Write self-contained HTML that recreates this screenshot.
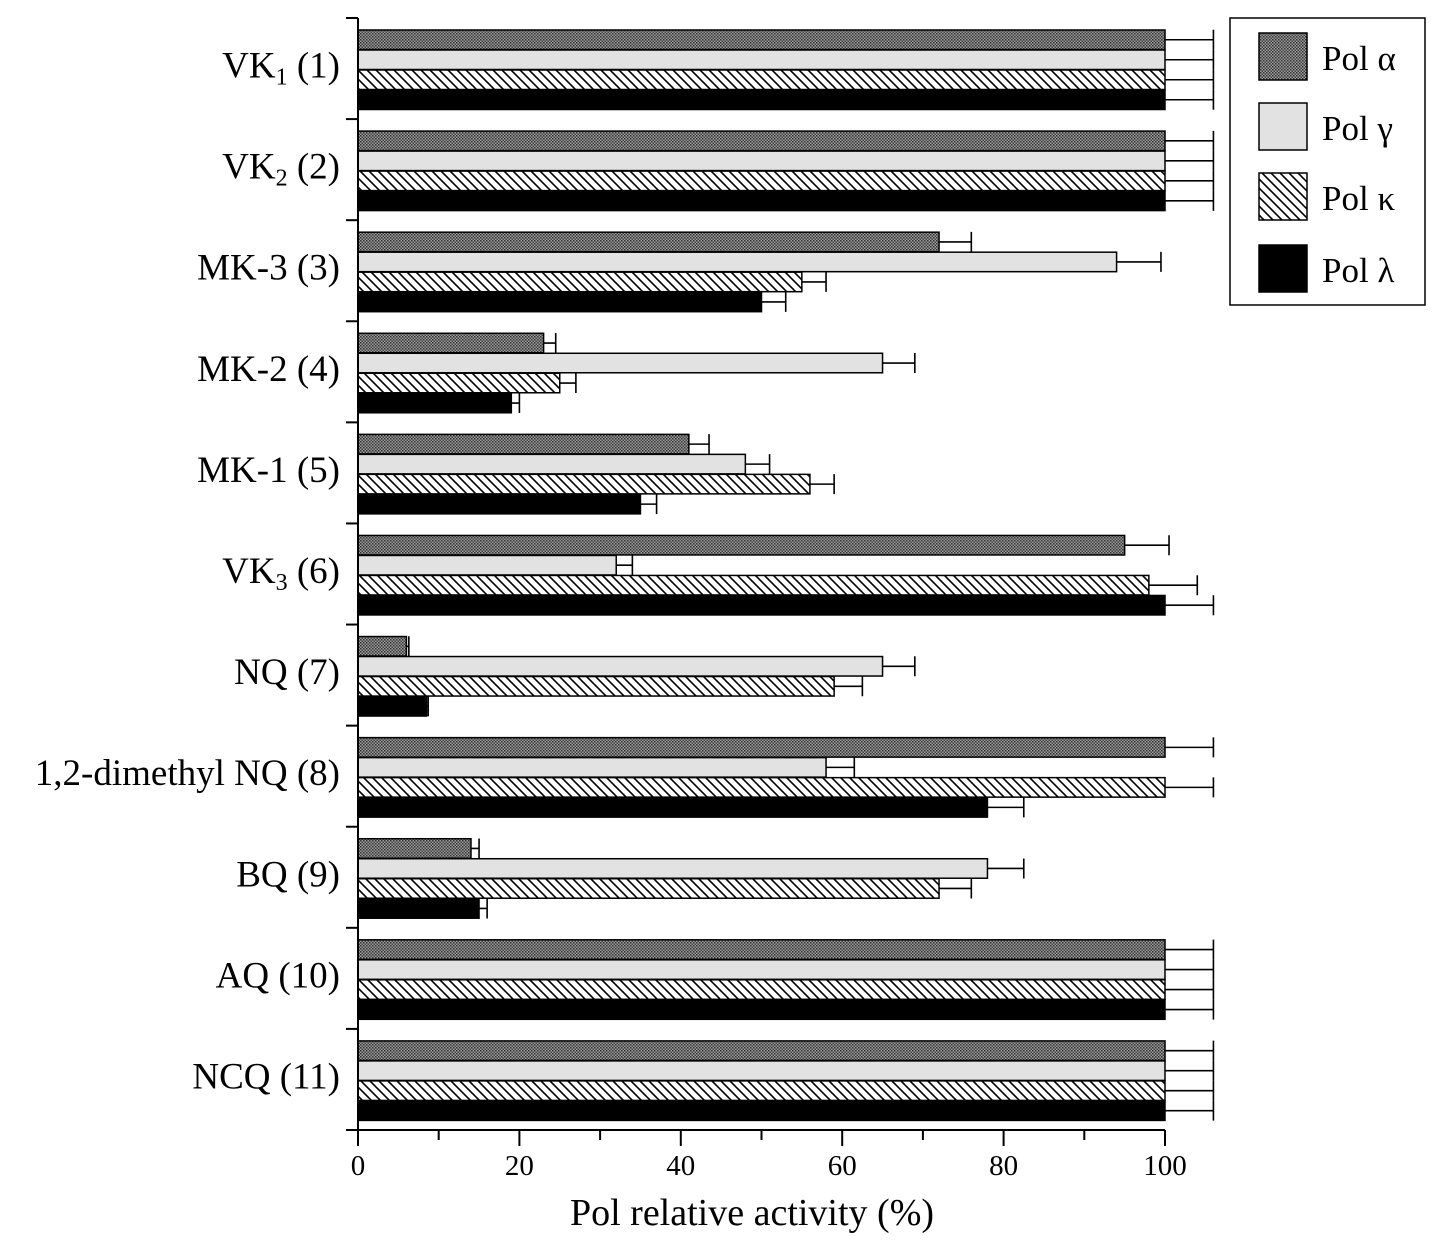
<!DOCTYPE html>
<html><head><meta charset="utf-8">
<style>
body{margin:0;background:#fff;}
svg{display:block;font-family:"Liberation Serif",serif;}
</style></head>
<body>
<svg id="chart" width="1453" height="1256">
<defs>
<pattern id="pa" width="3" height="3" patternUnits="userSpaceOnUse">
<rect width="3" height="3" fill="#9a9a9a"/><rect width="1.5" height="1.5" fill="#333"/><rect x="1.5" y="1.5" width="1.5" height="1.5" fill="#444"/>
</pattern>
<pattern id="pk" width="9" height="9" patternUnits="userSpaceOnUse">
<rect width="9" height="9" fill="#fff"/><path d="M-2,-2 L11,11 M-11,-2 L2,11 M7,-2 L20,11" stroke="#000" stroke-width="1.6"/>
</pattern>
</defs>
<g id="plot"></g>
<g>
<rect x="1230" y="18" width="195" height="287" fill="#fff" stroke="#000" stroke-width="1.5"/>
<rect x="1259" y="33" width="48" height="47" fill="url(#pa)" stroke="#000" stroke-width="1.5"/>
<text x="1322" y="70" font-size="35">Pol α</text>
<rect x="1259" y="103" width="48" height="47" fill="#e2e2e2" stroke="#000" stroke-width="1.5"/>
<text x="1322" y="140" font-size="35">Pol γ</text>
<rect x="1259" y="173" width="48" height="47" fill="url(#pk)" stroke="#000" stroke-width="1.5"/>
<text x="1322" y="210" font-size="35">Pol κ</text>
<rect x="1259" y="245" width="48" height="47" fill="#000" stroke="#000" stroke-width="1.5"/>
<text x="1322" y="282" font-size="35">Pol λ</text>
</g>
<text x="752" y="1225" font-size="38" text-anchor="middle">Pol relative activity (%)</text>
</svg>
<script>
const categories=["VK1 (1)","VK2 (2)","MK-3 (3)","MK-2 (4)","MK-1 (5)","VK3 (6)","NQ (7)","1,2-dimethyl NQ (8)","BQ (9)","AQ (10)","NCQ (11)"];
const polAlpha=[100,100,72,23,41,95,6,100,14,100,100];
const polGamma=[100,100,94,65,48,32,65,58,78,100,100];
const polKappa=[100,100,55,25,56,98,59,100,72,100,100];
const polLambda=[100,100,50,19,35,100,8.5,78,15,100,100];
const errAlpha=[6,6,4,1.5,2.5,5.5,0.3,6,1,6,6];
const errGamma=[6,6,5.5,4,3,2,4,3.5,4.5,6,6];
const errKappa=[6,6,3,2,3,6,3.5,6,4,6,6];
const errLambda=[6,6,3,1,2,6,0.2,4.5,1,6,6];
const xTicks=[0,20,40,60,80,100];

const NS="http://www.w3.org/2000/svg";
const g=document.getElementById("plot");
const X0=358,X1=1165,Y0=18,Y1=1130;
const xs=v=>X0+(X1-X0)*v/100;
const gh=(Y1-Y0)/categories.length;
function mk(t,a,p){const e=document.createElementNS(NS,t);for(const k in a)e.setAttribute(k,a[k]);(p||g).appendChild(e);return e;}
const series=[[polAlpha,errAlpha,"url(#pa)","alpha"],[polGamma,errGamma,"#e2e2e2","gamma"],[polKappa,errKappa,"url(#pk)","kappa"],[polLambda,errLambda,"#000","lambda"]];
categories.forEach((c,i)=>{
  const gy=Y0+i*gh;
  series.forEach((s,j)=>{
    const y=gy+12+j*20,h=19.5,v=s[0][i],e=s[1][i];
    const r=mk("rect",{x:X0,y:y,width:xs(v)-X0,height:h,fill:s[2],stroke:"#000","stroke-width":1.5});
    
    
    const cy=y+h/2;
    const eb=mk("path",{d:`M${xs(v)},${cy}H${xs(v+e)}M${xs(v+e)},${cy-10}V${cy+10}`,stroke:"#000","stroke-width":1.6,fill:"none"});
    
    
  });
  const t=mk("text",{x:340,y:gy+gh/2+9,"font-size":37,"text-anchor":"end"});
  
  
  const m=c.match(/^VK(\d) (.*)$/);
  if(m){t.textContent="VK";const ts=mk("tspan",{"font-size":24,dy:7},t);ts.textContent=m[1];const t2=mk("tspan",{dy:-7},t);t2.textContent=" "+m[2];}
  else t.textContent=c;
});
for(let i=0;i<=categories.length;i++){
  const tk=mk("line",{x1:X0-12,x2:X0,y1:Y0+i*gh,y2:Y0+i*gh,stroke:"#000","stroke-width":2});
  
  
}
const ya=mk("line",{x1:X0,x2:X0,y1:Y0,y2:Y1,stroke:"#000","stroke-width":2});


const xa=mk("line",{x1:X0,x2:X1,y1:Y1,y2:Y1,stroke:"#000","stroke-width":2});


for(let v=0;v<=100;v+=10){
  const big=xTicks.includes(v);
  const tk=mk("line",{x1:xs(v),x2:xs(v),y1:Y1,y2:Y1+(big?16:10),stroke:"#000","stroke-width":2});
  
  
}
xTicks.forEach(v=>{
  const t=mk("text",{x:xs(v),y:1175,"font-size":29,"text-anchor":"middle"});
  
  
  t.textContent=v;
});
</script>
</body></html>
